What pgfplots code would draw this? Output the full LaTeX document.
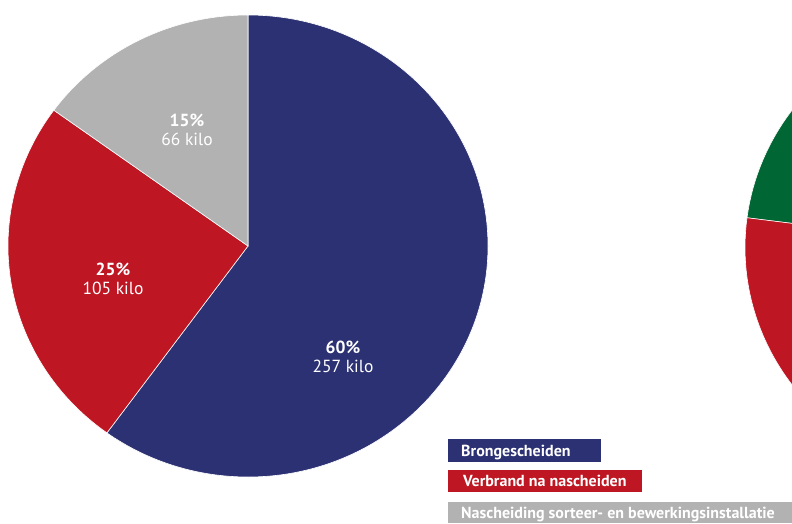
\documentclass[border=0pt]{standalone}
\usepackage{pgfplots}
\pgfplotsset{compat=1.18}
\usepackage{fontspec}
\setmainfont{PT Sans}

\definecolor{navy}{RGB}{43,49,114}
\definecolor{rood}{RGB}{190,22,34}
\definecolor{grijs}{RGB}{178,178,178}
\definecolor{groen}{RGB}{0,102,51}

% shares (%) and weights (kilo)
\def\pA{60}\def\kA{257}  % Brongescheiden
\def\pB{25}\def\kB{105}  % Verbrand na nascheiden
\def\pC{15}\def\kC{66}   % Nascheiding sorteer- en bewerkingsinstallatie
% pie centre (px); radii 240pt x 231pt
\def\cx{248}\def\cy{277}

\begin{document}
\begin{tikzpicture}
\begin{axis}[
    width=792pt, height=523pt, scale only axis,
    xmin=0, xmax=792, ymin=0, ymax=523,
    hide axis, clip=true,
]
% main pie, clockwise from the top
\fill[navy, draw=white, line width=0.6pt] (axis cs:\cx,\cy) -- +(90:240pt and 231pt)
    arc[start angle=90, end angle={90-3.6*\pA}, x radius=240pt, y radius=231pt] -- cycle;
\fill[rood, draw=white, line width=0.6pt] (axis cs:\cx,\cy) -- +({90-3.6*\pA}:240pt and 231pt)
    arc[start angle={90-3.6*\pA}, end angle={90-3.6*(\pA+\pB)}, x radius=240pt, y radius=231pt] -- cycle;
\fill[grijs, draw=white, line width=0.6pt] (axis cs:\cx,\cy) -- +({90-3.6*(\pA+\pB)}:240pt and 231pt)
    arc[start angle={90-3.6*(\pA+\pB)}, end angle=-270, x radius=240pt, y radius=231pt] -- cycle;

% second pie, cut off at the right edge
\fill[groen, draw=white, line width=0.6pt] (axis cs:985,275.5) -- +(172.6:240pt and 231pt)
    arc[start angle=172.6, end angle=60, x radius=240pt, y radius=231pt] -- cycle;
\fill[rood, draw=white, line width=0.6pt] (axis cs:985,275.5) -- +(172.6:240pt and 231pt)
    arc[start angle=172.6, end angle=280, x radius=240pt, y radius=231pt] -- cycle;

% slice labels
\node[white, align=center, font=\fontsize{17.5}{19}\selectfont] at (axis cs:343,166)
    {\textbf{\pA\%}\\\kA\ kilo};
\node[white, align=center, font=\fontsize{17.5}{19}\selectfont] at (axis cs:113,244)
    {\textbf{\pB\%}\\\kB\ kilo};
\node[white, align=center, font=\fontsize{17.5}{19}\selectfont] at (axis cs:187,393)
    {\textbf{\pC\%}\\\kC\ kilo};

% legend
\fill[navy] (axis cs:448,61) rectangle (axis cs:601,84);
\fill[rood] (axis cs:448,31) rectangle (axis cs:642,53);
\fill[grijs] (axis cs:448,0) rectangle (axis cs:800,21);
\node[white, anchor=base west, inner sep=0pt, font=\fontsize{16}{18}\selectfont\bfseries]
    at (axis cs:461,67) {Brongescheiden};
\node[white, anchor=base west, inner sep=0pt, font=\fontsize{16}{18}\selectfont\bfseries]
    at (axis cs:463,36.5) {Verbrand na nascheiden};
\node[white, anchor=base west, inner sep=0pt, font=\fontsize{16}{18}\selectfont\bfseries]
    at (axis cs:461,5) {Nascheiding sorteer- en bewerkingsinstallatie};
\end{axis}
\pgfresetboundingbox
\useasboundingbox (0,0) rectangle (792pt,523pt);
\end{tikzpicture}
\end{document}
